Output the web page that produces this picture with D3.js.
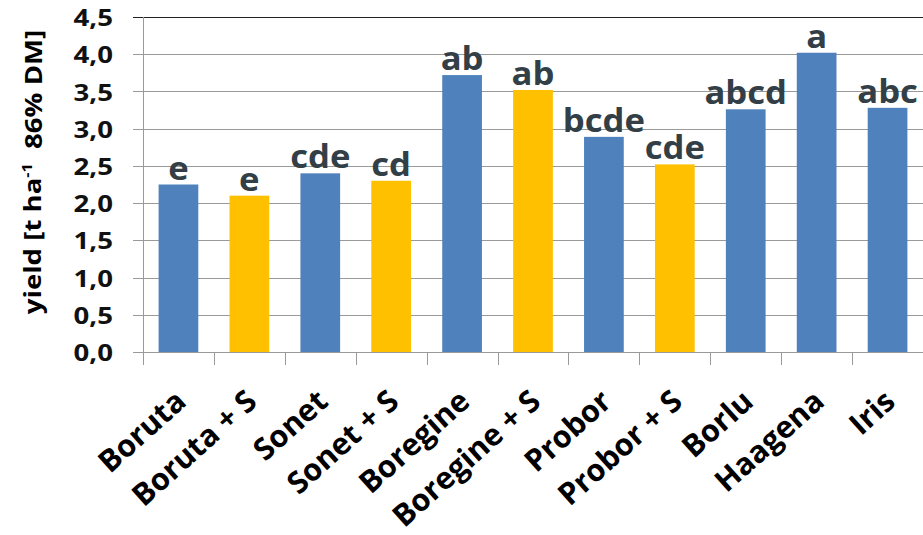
<!DOCTYPE html>
<html>
<head>
<meta charset="utf-8">
<script src="https://cdn.jsdelivr.net/npm/d3@7"></script>
<style>
  body { margin: 0; background: #fff; }
  svg { display: block; }
  text { font-family: "Open Sans", "Noto Sans", sans-serif; font-weight: 700; white-space: pre; }
</style>
</head>
<body>
<script>
// Cultivars (with / without sulphur) and their yields, t/ha at 86% dry matter
const categories = ["Boruta", "Boruta + S", "Sonet", "Sonet + S", "Boregine", "Boregine + S",
                    "Probor", "Probor + S", "Borlu", "Haagena", "Iris"];
const yieldValues = [2.25, 2.10, 2.40, 2.30, 3.72, 3.52, 2.89, 2.52, 3.26, 4.02, 3.28];
const groupLetters = ["e", "e", "cde", "cd", "ab", "ab", "bcde", "cde", "abcd", "a", "abc"];
const withSulphur = [false, true, false, true, false, true, false, true, false, false, false];
const yTicks = [0, 0.5, 1.0, 1.5, 2.0, 2.5, 3.0, 3.5, 4.0, 4.5];

const W = 923, H = 535;
const plotLeft = 143, plotRight = 923, plotTop = 17, plotBottom = 352;

const svg = d3.select("body").append("svg").attr("width", W).attr("height", H);

const x = d3.scaleBand().domain(categories).range([plotLeft, plotRight])
  .paddingInner(0.44).paddingOuter(0.22);
const y = d3.scaleLinear().domain([0, 4.5]).range([plotBottom, plotTop]);
const step = x.step();

// horizontal gridlines with short ticks on the left
svg.append("g").selectAll("line").data(yTicks).join("line")
  .attr("x1", plotLeft - 10).attr("x2", plotRight)
  .attr("y1", d => Math.round(y(d)) + 0.5).attr("y2", d => Math.round(y(d)) + 0.5)
  .attr("stroke", d => d === 4.5 ? "#222" : "#9a9a9a").attr("stroke-width", 1);

// category axis tick marks (band boundaries)
svg.append("g").selectAll("line").data(d3.range(categories.length + 1)).join("line")
  .attr("x1", i => Math.round(plotLeft + i * step) + 0.5).attr("x2", i => Math.round(plotLeft + i * step) + 0.5)
  .attr("y1", plotBottom).attr("y2", plotBottom + 13)
  .attr("stroke", "#9a9a9a");

// value axis line
svg.append("line")
  .attr("x1", plotLeft + 0.5).attr("x2", plotLeft + 0.5)
  .attr("y1", plotTop).attr("y2", plotBottom + 13)
  .attr("stroke", "#9a9a9a");

// bars
svg.append("g").selectAll("rect").data(categories).join("rect")
  .attr("x", d => x(d)).attr("width", x.bandwidth())
  .attr("y", (d, i) => y(yieldValues[i]))
  .attr("height", (d, i) => y(0) - y(yieldValues[i]))
  .attr("fill", (d, i) => withSulphur[i] ? "#FFC000" : "#4F81BD");

// significance letters above bars
svg.append("g").selectAll("text").data(categories).join("text")
  .attr("transform", (d, i) => `translate(${x(d) + x.bandwidth() / 2},${y(yieldValues[i]) - 5}) scale(1.05,1)`)
  .attr("text-anchor", "middle")
  .attr("font-size", 33)
  .attr("fill", "#333f47")
  .text((d, i) => groupLetters[i]);

// value axis labels
svg.append("g").selectAll("text").data(yTicks).join("text")
  .attr("transform", d => `translate(113,${y(d) + 1}) scale(1.2,1)`)
  .attr("text-anchor", "end")
  .attr("dy", "0.35em")
  .attr("font-size", 23)
  .attr("fill", "#111")
  .text(d => d3.format(".1f")(d).replace(".", ","));

// category labels, slanted
svg.append("g").selectAll("text").data(categories).join("text")
  .attr("transform", d => `translate(${x(d) + x.bandwidth() / 2 + 9.5},404) rotate(-42)`)
  .attr("text-anchor", "end")
  .attr("font-size", 30.5)
  .attr("fill", "#000")
  .text(d => d);

// axis title
const title = svg.append("text")
  .attr("transform", `translate(33,172) rotate(-90) scale(1.15,1)`)
  .attr("text-anchor", "middle")
  .attr("dy", "0.35em")
  .attr("font-size", 24)
  .attr("fill", "#000");
title.append("tspan").text("yield [t ha");
title.append("tspan").attr("font-size", 14).attr("dy", "-0.7em").text("-1");
title.append("tspan").attr("dy", "0.45em").text("  86% DM]");
</script>
</body>
</html>
